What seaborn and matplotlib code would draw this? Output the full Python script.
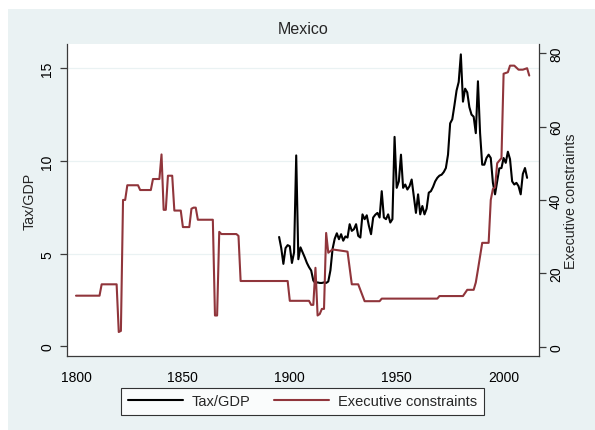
import matplotlib
matplotlib.use("Agg")
import matplotlib.pyplot as plt
import seaborn as sns
import pandas as pd
from matplotlib.patches import Rectangle
from matplotlib.lines import Line2D

# ---------------- data ----------------
tax_years = list(range(1895, 2012))
tax_gdp = [
    5.9, 5.3, 4.45, 5.3, 5.46, 5.4, 4.5, 5.07, 10.3, 4.7,          # 1895-1904
    5.34, 5.07, 4.8, 4.5, 4.27, 4.09, 3.55, 3.41, 3.45, 3.42,      # 1905-1914
    3.42, 3.45, 3.42, 3.5, 4.1, 5.25, 5.8, 6.1, 5.78, 6.05,        # 1915-1924
    5.7, 5.93, 5.87, 6.59, 6.23, 6.32, 6.59, 5.96, 5.87, 7.12,     # 1925-1934
    6.86, 7.07, 6.5, 6.05, 6.95, 7.1, 7.2, 6.95, 8.37, 6.95,       # 1935-1944
    6.86, 7.12, 6.68, 6.86, 11.3, 8.55, 8.9, 10.34, 8.55, 8.73,    # 1945-1954
    8.46, 8.64, 9.0, 8.1, 7.2, 8.2, 7.12, 7.57, 7.12, 7.43,        # 1955-1964
    8.29, 8.37, 8.6, 8.9, 9.09, 9.21, 9.26, 9.4, 9.62, 10.34,      # 1965-1974
    12.03, 12.25, 13.0, 13.8, 14.26, 15.75, 13.2, 13.9, 13.7, 12.9,  # 1975-1984
    12.5, 12.39, 11.5, 14.3, 11.5, 9.8, 9.8, 10.16, 10.34, 10.16,  # 1985-1994
    8.82, 8.2, 8.9, 9.6, 9.62, 10.16, 9.9, 10.5, 10.1, 8.9,        # 1995-2004
    8.73, 8.82, 8.64, 8.2, 9.3, 9.62, 9.09,                        # 2005-2011
]

xconst_years = [
    1800, 1811, 1812, 1819, 1820, 1821, 1822, 1823, 1824, 1829,
    1830, 1835, 1836, 1839, 1840, 1841, 1842, 1843, 1845, 1846,
    1849, 1850, 1853, 1854, 1855, 1856, 1857, 1864, 1865, 1866,
    1867, 1868, 1875, 1876, 1877, 1899, 1900, 1909, 1910, 1911,
    1912, 1913, 1914, 1915, 1916, 1917, 1918, 1920, 1926, 1927,
    1929, 1932, 1935, 1942, 1943, 1969, 1970, 1981, 1983, 1986,
    1987, 1988, 1990, 1993, 1994, 1995, 1996, 1997, 1999, 2000,
    2002, 2003, 2005, 2007, 2009, 2011, 2012,
]
xconst = [
    13.9, 13.9, 17.0, 17.0, 4.0, 4.3, 40.0, 40.0, 44.0, 44.0,
    42.7, 42.7, 45.7, 45.7, 52.4, 37.3, 37.3, 46.6, 46.6, 37.1,
    37.1, 32.6, 32.6, 37.6, 37.9, 37.9, 34.6, 34.6, 8.5, 8.5,
    31.3, 30.7, 30.7, 30.2, 17.9, 17.9, 12.5, 12.5, 11.4, 11.4,
    21.5, 8.5, 8.9, 10.3, 10.3, 31.0, 25.6, 26.5, 26.0, 25.9,
    17.0, 17.0, 12.4, 12.4, 13.1, 13.1, 13.8, 13.8, 15.5, 15.5,
    17.5, 21.0, 28.3, 28.3, 40.0, 43.0, 43.4, 50.0, 51.4, 74.4,
    74.8, 76.6, 76.6, 75.5, 75.5, 75.9, 73.9,
]

title = "Mexico"
left_label = "Tax/GDP"
right_label = "Executive constraints"
x_ticks = [1800, 1850, 1900, 1950, 2000]
left_ticks = [0, 5, 10, 15]
right_ticks = [0, 20, 40, 60, 80]

df_tax = pd.DataFrame({"year": tax_years, "value": tax_gdp})
df_x = pd.DataFrame({"year": xconst_years, "value": xconst})

# ---------------- style ----------------
sns.set_style("white")
plt.rcParams["font.family"] = ["Liberation Sans", "DejaVu Sans"]

W, H = 595, 431
BG = "#EAF2F3"
AXC = "#3a3a3a"
RED = "#90353B"

fig = plt.figure(figsize=(W / 100, H / 100), dpi=100)
fig.patch.set_facecolor("white")
fig.patches.append(Rectangle((8 / W, 0), 1, 1 - 10 / H, transform=fig.transFigure,
                             facecolor=BG, edgecolor="none", zorder=-10))

L, R, T, B = 66.7, 539.3, 45, 357
ax = fig.add_axes([L / W, 1 - B / H, (R - L) / W, (B - T) / H])
ax.set_facecolor("white")
ax2 = ax.twinx()

sns.lineplot(data=df_tax, x="year", y="value", ax=ax, color="black", lw=1.5,
             estimator=None, sort=False, legend=False)
sns.lineplot(data=df_x, x="year", y="value", ax=ax2, color=RED, lw=1.5,
             estimator=None, sort=False, legend=False)

ax.set_xlim(1795.65, 2016.7)
ax.set_ylim(-0.52, 16.31)
ax2.set_ylim(-2.54, 82.5)

for g in [5, 10, 15]:
    ax.axhline(g, color=BG, lw=0.9, zorder=0)

for a in (ax, ax2):
    for s in a.spines.values():
        s.set_color(AXC)
        s.set_linewidth(0.9)
    a.spines["top"].set_visible(False)
ax.spines["right"].set_visible(False)
ax2.spines["left"].set_visible(False)
ax2.spines["bottom"].set_visible(False)

ax.set_xticks(x_ticks)
ax.set_yticks(left_ticks)
ax2.set_yticks(right_ticks)
ax.tick_params(axis="both", direction="out", length=5, width=0.9, color=AXC,
               labelsize=10, labelcolor="black")
ax.tick_params(axis="x", pad=5)
ax.tick_params(axis="y", pad=4)
ax2.tick_params(axis="y", direction="out", length=5, width=0.9, color=AXC,
                labelsize=10, labelcolor="black", pad=2)
for lab in ax.get_yticklabels():
    lab.set_rotation(90)
    lab.set_va("center")
    lab.set_ha("right")
for lab in ax2.get_yticklabels():
    lab.set_rotation(90)
    lab.set_va("center")
    lab.set_ha("left")

ax.set_xlabel("")
ax.set_ylabel(left_label, fontsize=10.3)
ax.yaxis.set_label_coords((30 - L) / (R - L), 0.5)
ax.yaxis.label.set_va("center")
ax2.set_ylabel(right_label, fontsize=10.3, rotation=90)
ax2.yaxis.set_label_coords((571 - L) / (R - L), 0.5)
ax2.yaxis.label.set_va("center")

fig.text(303 / W, 1 - 30 / H, title, ha="center", va="center", fontsize=11.5)

handles = [Line2D([], [], color="black", lw=1.5),
           Line2D([], [], color=RED, lw=1.5)]
leg = fig.legend(handles, [left_label, right_label], loc="center",
                 bbox_to_anchor=(302.5 / W, 1 - 402.5 / H), ncol=2,
                 fontsize=10.5, frameon=True, fancybox=False,
                 handlelength=3.8, handletextpad=0.6, columnspacing=1.6,
                 borderpad=0.45, borderaxespad=0)
leg.get_frame().set_edgecolor("black")
leg.get_frame().set_linewidth(0.8)
leg.get_frame().set_facecolor("white")

fig.savefig("out.png", dpi=100, facecolor=fig.get_facecolor())
